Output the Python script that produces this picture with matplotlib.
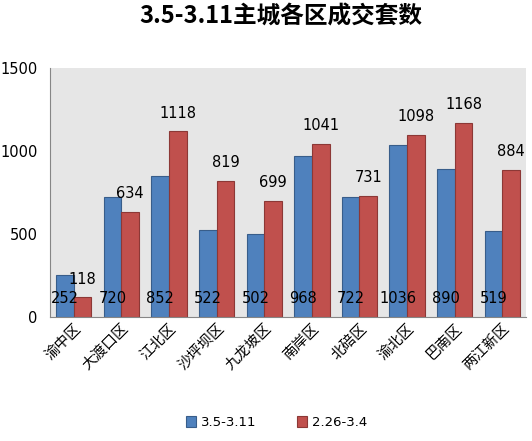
import matplotlib.pyplot as plt
import numpy as np

plt.rcParams['font.family'] = ['DejaVu Sans', 'Noto Sans CJK SC']

districts = ['渝中区', '大渡口区', '江北区', '沙坪坝区', '九龙坡区',
             '南岸区', '北碚区', '渝北区', '巴南区', '两江新区']
week_now = [252, 720, 852, 522, 502, 968, 722, 1036, 890, 519]
week_prev = [118, 634, 1118, 819, 699, 1041, 731, 1098, 1168, 884]
label_now = '3.5-3.11'
label_prev = '2.26-3.4'

fig = plt.figure(figsize=(5.32, 4.41), dpi=100)
ax = fig.add_axes([0.094, 0.281, 0.895, 0.565])
ax.set_facecolor('#E6E6E6')

x = np.arange(len(districts))
w = 0.37
b1 = ax.bar(x - w / 2, week_now, width=w, color='#4F81BD', edgecolor='#385D8A',
            linewidth=0.8, label=label_now)
b2 = ax.bar(x + w / 2, week_prev, width=w, color='#C0504D', edgecolor='#8C3836',
            linewidth=0.8, label=label_prev)

for xi, v in zip(x, week_now):
    ax.text(xi - w / 2, 112, str(v), ha='center', va='center', fontsize=10.5)
for xi, v in zip(x, week_prev):
    ax.text(xi + w / 2, v + 65, str(v), ha='center', va='bottom', fontsize=10.5)

ax.set_xlim(-0.5, len(districts) - 0.5)
ax.set_ylim(0, 1500)
ax.set_yticks([0, 500, 1000, 1500])
ax.tick_params(axis='y', length=0, labelsize=10.5, pad=9)
ax.tick_params(axis='x', length=0, pad=3)
ax.set_xticks(x)
ax.set_xticklabels(districts, rotation=45, ha='right', rotation_mode='anchor',
                   fontsize=10.5, family=['Noto Sans CJK SC', 'DejaVu Sans'])
for s in ['top', 'right']:
    ax.spines[s].set_visible(False)
for s in ['left', 'bottom']:
    ax.spines[s].set_color('#868686')

fig.suptitle('3.5-3.11主城各区成交套数', fontsize=17, fontweight='bold', x=0.528, y=0.99,
             family=['Noto Sans CJK SC', 'DejaVu Sans'])
fig.legend(handles=[b1, b2], loc='lower center', bbox_to_anchor=(0.52, 0.0), ncol=2,
           frameon=False, fontsize=9.5, handlelength=0.8, handleheight=0.8,
           columnspacing=3, handletextpad=0.4)

fig.savefig('out.png', dpi=100)
